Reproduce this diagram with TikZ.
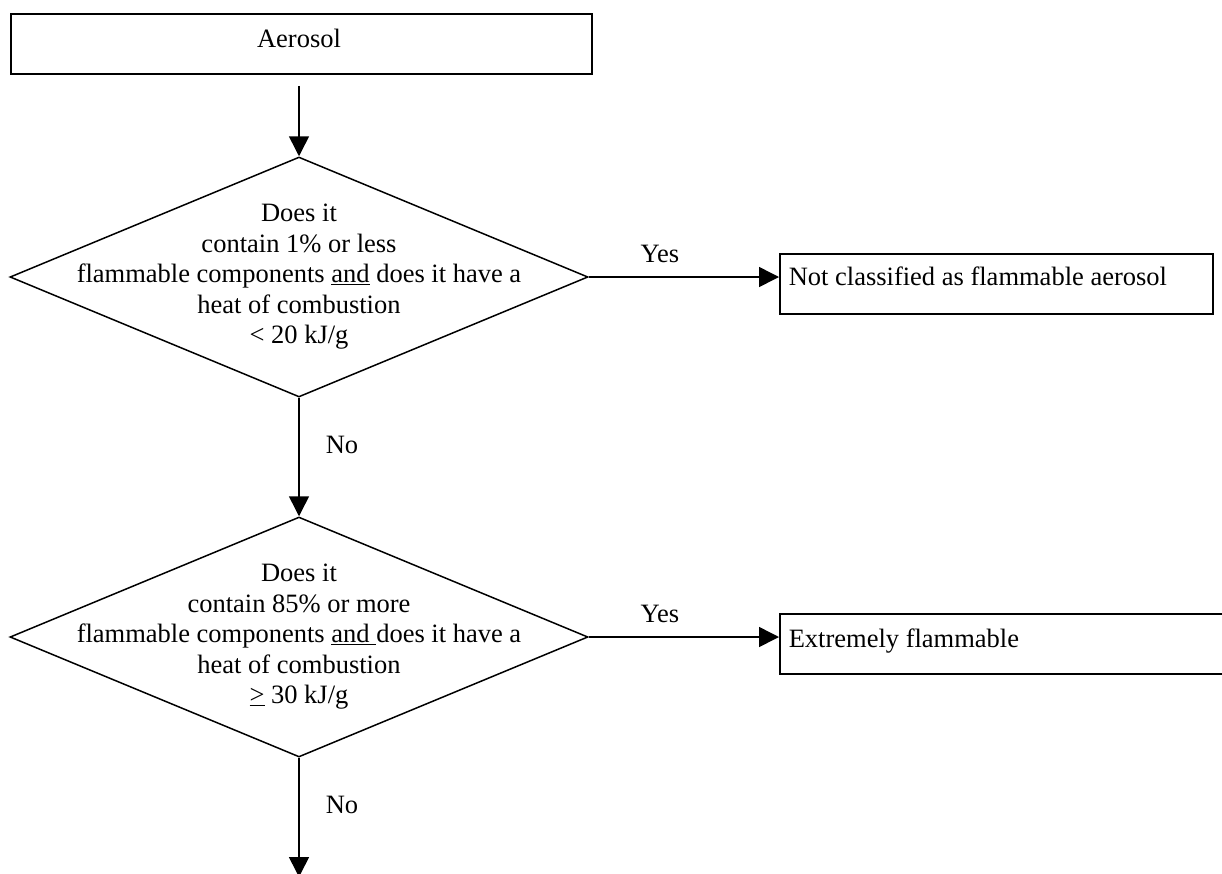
\documentclass[tikz,border=0pt]{standalone}
\usepackage{fontspec}
\setmainfont{Liberation Serif}
\usetikzlibrary{shapes.geometric,arrows.meta}
\begin{document}
\begin{tikzpicture}[x=1pt,y=-1pt,
  line width=1.5pt,
  every node/.style={font=\fontsize{26.5}{30.5}\selectfont},
  boxnode/.style={draw,rectangle,inner sep=0pt,anchor=north west,line width=1.8pt},
  decision/.style={draw,diamond,inner sep=0pt,minimum width=578pt,minimum height=240pt},
  dtext/.style={align=center,inner sep=0pt},
  lbl/.style={inner sep=0pt},
  arr/.style={-{Triangle[length=20pt,width=20pt]}}]
\useasboundingbox (0,0) rectangle (1222,873);
% Aerosol box
\node[boxnode,minimum width=581pt,minimum height=60pt] (aer) at (10,13) {};
\node[lbl,anchor=base] (aert) at (299,47) {Aerosol};
% decision 1
\node[decision] (d1) at (299,277) {};
\node[dtext] (d1t) at (299,277) {Does it\\contain 1\% or less\\flammable components \underline{and} does it have a\\heat of combustion\\< 20 kJ/g};
% result 1
\node[boxnode,minimum width=433pt,minimum height=60pt] (r1) at (779,253) {};
\node[lbl,anchor=base west] (r1t) at (788,285) {Not classified as flammable aerosol};
% decision 2
\node[decision] (d2) at (299,637) {};
\node[dtext] (d2t) at (299,637) {Does it\\contain 85\% or more\\flammable components \underline{and\ }does it have a\\heat of combustion\\\underline{>} 30 kJ/g};
% result 2
\node[boxnode,minimum width=460pt,minimum height=60pt] (r2) at (779,613) {};
\node[lbl,anchor=base west] (r2t) at (788,647) {Extremely flammable};
\coordinate (end) at (299,877);
% connectors
\draw[arr,shorten <=11pt] (d1.north |- aer.south) -- (d1.north);
\draw[arr] (d1.east) -- (d1.east -| r1.west);
\node[lbl,anchor=base] (y1) at (660,262) {Yes};
\draw[arr] (d1.south) -- (d2.north);
\node[lbl,anchor=base west] (n1) at (325,453) {No};
\draw[arr] (d2.east) -- (d2.east -| r2.west);
\node[lbl,anchor=base] (y2) at (660,622) {Yes};
\draw[arr] (d2.south) -- (end);
\node[lbl,anchor=base west] (n2) at (325,813) {No};
\end{tikzpicture}
\end{document}
